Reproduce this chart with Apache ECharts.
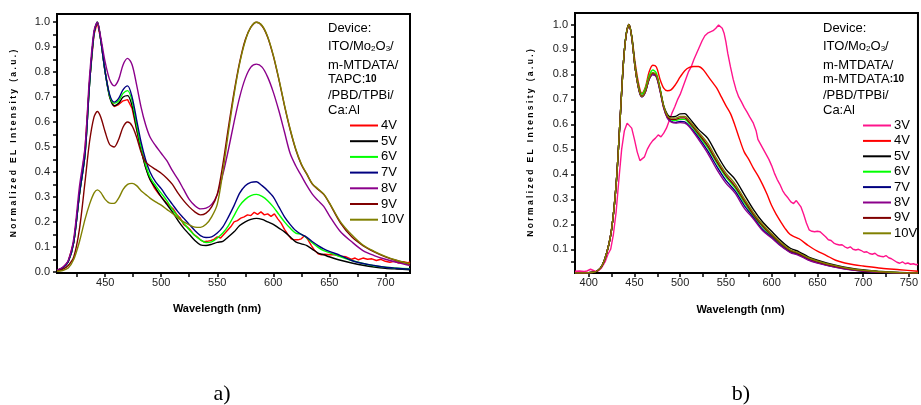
<!DOCTYPE html>
<html>
<head>
<meta charset="utf-8">
<script src="https://cdn.jsdelivr.net/npm/echarts@6/dist/echarts.min.js"></script>
<style>
  html, body { margin: 0; padding: 0; background: #fff; }
  #chart { width: 921px; height: 405px; }
</style>
</head>
<body>
<div id="chart"></div>
<script>
// ---------- Panel a) : EL spectra, TAPC:10 device ----------
const wlA = [407,412,417,422,427,432,436,440,443,446,450,454,458,462,466,470,474,478,482,486,490,495,500,505,510,515,520,525,530,535,540,545,550,555,560,565,570,575,580,585,590,595,600,605,610,615,620,625,630,635,640,645,650,660,670,680,690,700,710,722];

const wlA4 = [407,412,417,422,427,432,436,440,443,446,450,454,458,462,466,470,474,478,482,486,490,494,498,502,505,508,511,514,517,520,523,526,529,532,535,538,541,544,547,550,553,556,559,562,565,568,571,574,577,580,583,586,589,592,595,598,601,604,607,610,613,616,619,622,625,628,631,634,637,640,643,646,650,655,660,665,670,673,676,680,684,688,692,696,700,704,708,712,716,720,722];
const a4V = [.005,.015,.04,.12,.31,.49,.76,.95,1.0,.93,
  .80,.70,.662,.67,.685,.69,.655,.57,.49,.42,
  .37,.335,.31,.29,.275,.262,.25,.228,.215,.19,
  .18,.168,.15,.14,.128,.12,.122,.125,.13,.14,
  .135,.15,.165,.18,.2,.205,.215,.22,.228,.225,
  .238,.23,.24,.228,.232,.222,.232,.212,.195,.17,
  .15,.132,.128,.128,.132,.145,.128,.105,.085,.072,
  .068,.07,.068,.068,.062,.06,.05,.055,.048,.055,
  .05,.052,.045,.05,.042,.038,.042,.035,.04,.036,.04];

const a5V = [.005,.015,.04,.12,.31,.47,.75,.955,1.0,.93,
  .80,.70,.665,.675,.70,.706,.665,.575,.49,.42,
  .37,.335,.30,.27,.24,.205,.175,.15,.125,.108,
  .105,.11,.118,.122,.14,.16,.185,.20,.21,.214,
  .21,.20,.19,.175,.16,.14,.12,.112,.105,.09,
  .075,.068,.06,.046,.035,.026,.019,.014,.011,.008];

const a6V = [.005,.015,.04,.12,.31,.47,.75,.955,1.0,.93,
  .80,.705,.675,.685,.715,.726,.685,.59,.50,.43,
  .38,.345,.315,.285,.25,.22,.195,.168,.145,.128,
  .117,.12,.135,.155,.185,.225,.265,.29,.305,.31,
  .302,.285,.26,.23,.20,.175,.155,.15,.135,.115,
  .098,.085,.077,.06,.045,.033,.024,.018,.014,.012];

const a7V = [.005,.015,.04,.12,.31,.47,.75,.955,1.0,.93,
  .80,.71,.68,.695,.73,.745,.70,.61,.52,.45,
  .40,.36,.333,.30,.27,.24,.215,.19,.165,.145,
  .137,.14,.155,.18,.22,.265,.315,.345,.358,.361,
  .345,.325,.30,.26,.22,.19,.165,.15,.138,.12,
  .105,.092,.082,.065,.045,.033,.025,.018,.014,.01];

const a8V = [.006,.018,.045,.135,.34,.50,.78,.965,1.0,.94,
  .84,.77,.745,.77,.83,.855,.83,.75,.66,.59,
  .54,.505,.475,.445,.405,.37,.33,.29,.265,.252,
  .255,.27,.31,.39,.49,.60,.70,.775,.82,.832,
  .82,.78,.72,.645,.56,.475,.425,.385,.345,.31,
  .285,.262,.225,.16,.12,.085,.065,.05,.038,.025];

const a9V = [.003,.01,.025,.06,.17,.36,.52,.62,.642,.62,
  .56,.51,.50,.53,.58,.60,.585,.54,.48,.44,
  .425,.41,.395,.375,.35,.315,.285,.26,.24,.228,
  .235,.26,.31,.43,.58,.72,.84,.93,.98,1.0,
  .985,.94,.865,.77,.665,.57,.49,.43,.39,.35,
  .33,.31,.275,.195,.14,.105,.08,.06,.045,.03];

const a10V = [.002,.005,.015,.05,.12,.21,.27,.315,.328,.318,
  .29,.275,.274,.295,.33,.35,.354,.345,.325,.31,
  .295,.28,.267,.25,.234,.215,.20,.188,.179,.178,
  .19,.22,.27,.40,.56,.71,.835,.925,.98,1.0,
  .987,.942,.868,.773,.668,.573,.493,.433,.392,.352,
  .332,.312,.277,.20,.148,.107,.082,.062,.046,.032];

// ---------- Panel b) : EL spectra, m-MTDATA:10 device ----------
const wlB = [385,395,405,410,415,420,425,430,434,438,441,444,447,451,455,458,462,466,470,474,478,482,486,490,495,500,505,510,520,530,540,550,560,570,580,590,600,610,620,630,640,650,660,670,680,690,700,720,740,760];

const wlB3 = [385,390,395,398,400,402,404,407,410,414,418,421,424,427,430,433,436,439,442,444,447,450,453,456,458,461,464,467,470,473,476,479,482,485,488,491,494,497,500,503,506,509,512,515,518,521,524,527,530,533,536,539,542,544,546,548,550,552,555,558,561,564,567,570,573,576,580,583,585,588,591,594,597,600,603,606,609,612,615,618,621,624,627,629,632,635,638,641,644,647,650,653,656,659,662,665,668,671,674,677,680,683,686,689,692,695,698,701,704,707,710,713,716,719,722,725,728,731,734,737,740,743,746,749,752,755,758,760];
const b3V = [.012,.013,.011,.013,.015,.02,.015,.012,.012,.025,
  .05,.08,.1,.16,.25,.38,.5,.575,.605,.607,
  .585,.54,.49,.455,.448,.47,.5,.52,.535,.545,
  .558,.55,.565,.585,.615,.645,.67,.698,.72,.75,
  .78,.81,.83,.86,.885,.91,.935,.955,.965,.97,
  .975,.985,.998,.99,.985,.965,.93,.885,.83,.78,
  .74,.71,.69,.668,.65,.63,.605,.575,.54,.52,
  .5,.48,.46,.435,.405,.38,.36,.335,.318,.305,
  .29,.283,.295,.3,.27,.24,.205,.178,.172,.17,
  .172,.17,.16,.15,.138,.135,.125,.12,.117,.118,
  .11,.105,.11,.1,.097,.1,.095,.088,.09,.083,
  .08,.084,.075,.072,.07,.075,.066,.062,.055,.048,
  .044,.05,.042,.045,.04,.042,.038,.04];

const wlB4 = [385,395,405,410,415,420,425,430,434,438,441,444,447,451,455,458,462,466,470,474,478,482,486,490,495,500,505,510,515,520,525,530,535,540,545,550,555,560,565,570,575,580,585,590,595,600,605,610,615,620,625,630,640,645,650,660,670,680,690,700,720,740,760];
const b4V = [.005,.005,.008,.015,.037,.09,.18,.36,.60,.85,
  .96,1.0,.955,.84,.755,.725,.75,.81,.837,.83,
  .78,.745,.735,.738,.76,.79,.815,.828,.832,.832,
  .82,.795,.77,.745,.71,.675,.643,.595,.54,.49,
  .46,.425,.395,.36,.32,.275,.24,.21,.182,.16,
  .15,.142,.115,.103,.093,.075,.056,.045,.038,.033,
  .024,.018,.012];

const b5V = [.005,.005,.008,.015,.037,.09,.18,.36,.60,.85,
  .96,1.0,.95,.82,.74,.715,.735,.785,.805,.795,
  .74,.675,.64,.63,.632,.642,.643,.625,.58,.545,
  .48,.42,.38,.32,.26,.21,.172,.135,.105,.09,
  .07,.056,.045,.036,.028,.022,.018,.011,.007,.005];

const b6V = [.005,.005,.008,.015,.037,.09,.18,.36,.60,.85,
  .965,1.0,.955,.83,.745,.722,.745,.795,.818,.805,
  .745,.672,.632,.618,.616,.62,.62,.603,.557,.508,
  .446,.39,.346,.288,.235,.19,.153,.12,.093,.08,
  .062,.049,.039,.031,.024,.018,.014,.009,.006,.005];

const b7V = [.005,.005,.008,.015,.037,.09,.18,.36,.60,.85,
  .96,1.0,.95,.82,.735,.71,.73,.78,.80,.79,
  .735,.667,.627,.612,.608,.612,.61,.594,.548,.495,
  .432,.376,.334,.276,.228,.18,.148,.115,.09,.077,
  .059,.047,.037,.029,.022,.017,.013,.008,.005,.004];

const b8V = [.005,.005,.008,.015,.037,.09,.18,.36,.60,.85,
  .96,1.0,.95,.82,.735,.71,.73,.78,.80,.79,
  .733,.665,.625,.61,.605,.607,.605,.59,.54,.485,
  .42,.365,.325,.265,.222,.175,.145,.113,.088,.075,
  .057,.045,.036,.028,.021,.016,.012,.008,.005,.004];

const b9V = [.005,.005,.008,.015,.037,.09,.18,.36,.60,.85,
  .96,1.0,.95,.82,.738,.712,.733,.783,.806,.796,
  .738,.67,.632,.62,.62,.626,.626,.608,.563,.515,
  .452,.396,.352,.295,.24,.194,.157,.123,.096,.082,
  .064,.051,.04,.032,.025,.019,.015,.009,.006,.005];

const b10V = [.005,.005,.008,.015,.037,.09,.18,.36,.60,.85,
  .96,1.0,.95,.82,.738,.712,.735,.785,.808,.798,
  .74,.672,.635,.625,.625,.632,.632,.615,.57,.525,
  .462,.405,.362,.303,.247,.2,.162,.127,.099,.085,
  .066,.053,.042,.034,.026,.02,.016,.01,.006,.005];

// ---------- axis ticks and labels ----------
const xLabelsA = [450, 500, 550, 600, 650, 700];
const xTicksA = [425, 450, 475, 500, 525, 550, 575, 600, 625, 650, 675, 700];
const xLabelsB = [400, 450, 500, 550, 600, 650, 700, 750];
const xTicksB = [400, 425, 450, 475, 500, 525, 550, 575, 600, 625, 650, 675, 700, 725, 750];
const yLabelsA = [0.0, 0.1, 0.2, 0.3, 0.4, 0.5, 0.6, 0.7, 0.8, 0.9, 1.0];
const yTicksA = [0.0, 0.05, 0.1, 0.15, 0.2, 0.25, 0.3, 0.35, 0.4, 0.45, 0.5, 0.55, 0.6, 0.65, 0.7, 0.75, 0.8, 0.85, 0.9, 0.95, 1.0];
const yLabelsB = [0.1, 0.2, 0.3, 0.4, 0.5, 0.6, 0.7, 0.8, 0.9, 1.0];
const yTicksB = [0.05, 0.1, 0.15, 0.2, 0.25, 0.3, 0.35, 0.4, 0.45, 0.5, 0.55, 0.6, 0.65, 0.7, 0.75, 0.8, 0.85, 0.9, 0.95, 1.0];

// ---------- text ----------
const namesA = ['4V', '5V', '6V', '7V', '8V', '9V', '10V'];
const namesB = ['3V', '4V', '5V', '6V', '7V', '8V', '9V', '10V'];
const deviceA = ['Device:', 'ITO/Mo{s|2}O{s|3}/', 'm-MTDATA/', 'TAPC:{b|10}', '/PBD/TPBi/', 'Ca:Al'];
const deviceB = ['Device:', 'ITO/Mo{s|2}O{s|3}/', 'm-MTDATA/', 'm-MTDATA{b|:10}', '/PBD/TPBi/', 'Ca:Al'];
const yTitle = 'N o r m a l i z e d   E L   I n t e n s i t y   ( a . u . )';
const xTitle = 'Wavelength (nm)';
const panelTags = ['a)', 'b)'];

const COLORS = {
  '3V': '#ff148c', '4V': '#ff0000', '5V': '#000000', '6V': '#00ff00',
  '7V': '#000080', '8V': '#8b008b', '9V': '#800000', '10V': '#808000'
};
const FONT = '"Liberation Sans", Arial, sans-serif';

function pairs(xs, ys) { return xs.map((x, i) => [x, ys[i]]); }

function lineSeries(name, panel, xs, ys, noisy) {
  return {
    type: 'line', name: name,
    xAxisIndex: panel, yAxisIndex: panel,
    data: pairs(xs, ys),
    symbol: 'none',
    smooth: noisy ? false : 0.3,
    lineStyle: { width: 1.4, color: COLORS[name] },
    itemStyle: { color: COLORS[name] },
    emphasis: { disabled: true },
    silent: true
  };
}

const seriesA = [
  lineSeries('4V', 0, wlA4, a4V, true),
  lineSeries('5V', 0, wlA, a5V),
  lineSeries('6V', 0, wlA, a6V),
  lineSeries('7V', 0, wlA, a7V),
  lineSeries('8V', 0, wlA, a8V),
  lineSeries('9V', 0, wlA, a9V),
  lineSeries('10V', 0, wlA, a10V)
];
const seriesB = [
  lineSeries('3V', 1, wlB3, b3V, true),
  lineSeries('4V', 1, wlB4, b4V),
  lineSeries('5V', 1, wlB, b5V),
  lineSeries('6V', 1, wlB, b6V),
  lineSeries('7V', 1, wlB, b7V),
  lineSeries('8V', 1, wlB, b8V),
  lineSeries('9V', 1, wlB, b9V),
  lineSeries('10V', 1, wlB, b10V)
];

function xAxisOf(grid, min, max, labels, ticks, padRight, gap) {
  return {
    type: 'value', gridIndex: grid, min: min, max: max,
    axisLine: { onZero: false, lineStyle: { color: '#000', width: 2 } },
    axisTick: { customValues: ticks, length: 4, lineStyle: { color: '#000', width: 1.5 } },
    axisLabel: { customValues: labels, fontSize: 11, fontFamily: FONT, color: '#222', margin: 4 },
    splitLine: { show: false },
    name: xTitle, nameLocation: 'middle', nameGap: gap,
    nameTextStyle: { fontSize: 11, fontWeight: 'bold', fontFamily: FONT, color: '#000', padding: [0, padRight, 0, 0] }
  };
}
function yAxisOf(grid, min, max, labels, ticks, gap) {
  return {
    type: 'value', gridIndex: grid, min: min, max: max,
    axisLine: { onZero: false, lineStyle: { color: '#000', width: 2 } },
    axisTick: { customValues: ticks, length: 4, lineStyle: { color: '#000', width: 1.5 } },
    axisLabel: { customValues: labels, fontSize: 11, fontFamily: FONT, color: '#222', margin: 7,
                 formatter: v => v.toFixed(1) },
    splitLine: { show: false },
    name: yTitle, nameLocation: 'middle', nameRotate: 90, nameGap: gap,
    nameTextStyle: { fontSize: 8.5, fontWeight: 'bold', fontFamily: FONT, color: '#000' }
  };
}

function legendOf(names, left, gap) {
  return {
    data: names, orient: 'vertical', left: left, top: 118, padding: 0,
    icon: 'rect', itemWidth: 28, itemHeight: 2, itemGap: gap,
    selectedMode: false,
    textStyle: { fontSize: 13, lineHeight: 15, fontFamily: FONT, color: '#000', padding: [0, 0, 0, -2] }
  };
}

const deviceY = [28, 46, 65, 79, 95, 110];
function deviceText(lines, x) {
  return lines.map((t, i) => ({
    type: 'text', x: x, y: deviceY[i], silent: true,
    style: {
      text: t, fill: '#000', font: '13px ' + FONT,
      align: 'left', verticalAlign: 'middle',
      rich: {
        s: { fontSize: 8, fontFamily: FONT, fill: '#000', verticalAlign: 'bottom' },
        b: { fontSize: 10, fontWeight: 'bold', fontFamily: FONT, fill: '#000' }
      }
    }
  }));
}

const chart = echarts.init(document.getElementById('chart'), null, { renderer: 'canvas' });
chart.setOption({
  animation: false,
  backgroundColor: '#fff',
  grid: [
    { left: 57, top: 14, width: 353, height: 259, show: true, borderColor: '#000', borderWidth: 2, containLabel: false },
    { left: 575, top: 13, width: 350, height: 260, show: true, borderColor: '#000', borderWidth: 2, containLabel: false }
  ],
  xAxis: [
    xAxisOf(0, 407, 722, xLabelsA, xTicksA, 33, 30),
    xAxisOf(1, 385, 760, xLabelsB, xTicksB, 12, 31)
  ],
  yAxis: [
    yAxisOf(0, -0.005, 1.033, yLabelsA, yTicksA, 39),
    yAxisOf(1, 0.005, 1.046, yLabelsB, yTicksB, 40)
  ],
  legend: [legendOf(namesA, 350, 0.7), legendOf(namesB, 863, 0.4)],
  graphic: [
    ...deviceText(deviceA, 328),
    ...deviceText(deviceB, 823),
    { type: 'text', x: 222, y: 394, silent: true,
      style: { text: panelTags[0], font: '22px "Liberation Serif", "Times New Roman", serif', fill: '#000', align: 'center', verticalAlign: 'middle' } },
    { type: 'text', x: 741, y: 394, silent: true,
      style: { text: panelTags[1], font: '22px "Liberation Serif", "Times New Roman", serif', fill: '#000', align: 'center', verticalAlign: 'middle' } }
  ],
  series: [...seriesA, ...seriesB]
});
</script>
</body>
</html>
